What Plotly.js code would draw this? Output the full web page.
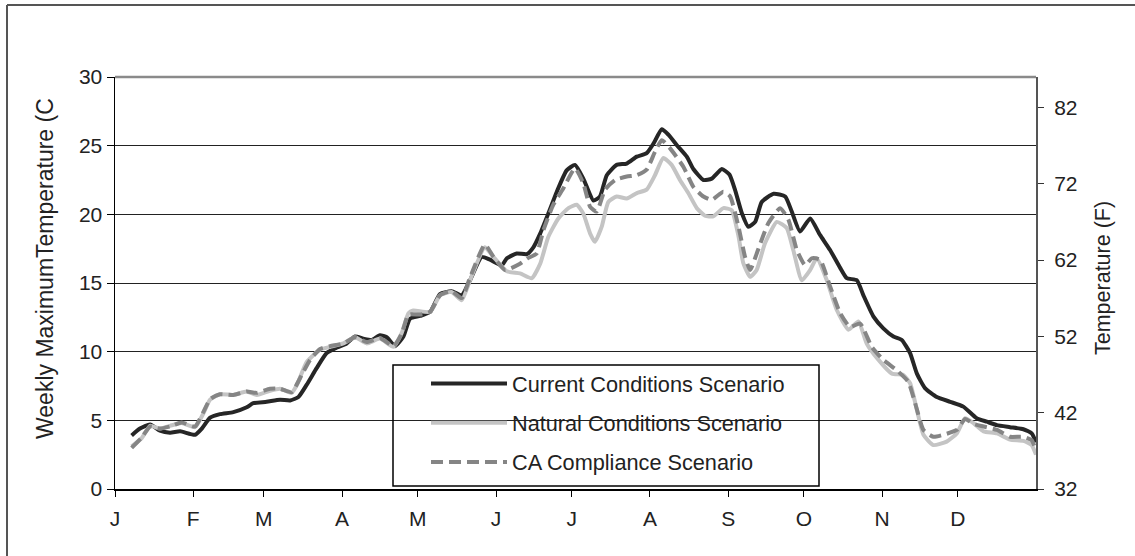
<!DOCTYPE html>
<html>
<head>
<meta charset="utf-8">
<script src="https://cdn.plot.ly/plotly-3.0.1.min.js"></script>
<style>html,body{margin:0;padding:0;background:#fff;}#chart{width:1135px;height:556px;}</style>
</head>
<body>
<div id="chart"></div>
<script>
// Day of year (0 = Jan 1) and weekly maximum temperature (C)
const currentDays = [6.6,9.9,13.9,17.8,21.8,25.8,31.7,34.4,37.7,41.6,46.9,52.2,54.8,60.1,65.4,69.4,72.7,76.0,79.9,83.9,87.9,91.8,95.1,98.4,101.7,105.0,107.7,111.0,114.3,116.9,120.9,124.9,128.8,133.4,137.4,140.7,145.3,148.6,153.3,155.3,159.2,163.2,165.8,168.5,171.7,175.1,179.0,182.3,185.6,189.6,192.2,194.9,198.8,202.8,206.8,210.7,213.4,216.7,219.3,222.6,226.6,229.2,233.2,236.5,240.5,243.5,245.7,248.4,251.0,253.7,256.3,261.0,265.6,268.2,271.5,275.5,279.4,283.4,287.4,290.0,294.0,296.6,300.6,304.5,308.5,311.8,315.1,317.8,321.0,325.7,331.0,336.2,341.5,345.5,349.5,354.7,360.0,363.3,365];
const currentVals = [3.9,4.4,4.7,4.25,4.1,4.2,3.95,4.4,5.2,5.45,5.6,5.95,6.25,6.35,6.5,6.45,6.7,7.6,8.8,9.9,10.3,10.6,11.1,10.95,10.85,11.2,11.05,10.4,11.1,12.4,12.6,12.9,14.2,14.4,14.1,15.2,16.9,16.7,16.3,16.8,17.15,17.1,17.6,18.6,20.05,21.65,23.2,23.6,22.6,21.0,21.3,22.85,23.6,23.7,24.2,24.45,25.15,26.2,25.8,25.05,24.2,23.3,22.5,22.6,23.3,22.9,21.8,20.1,19.1,19.45,20.9,21.5,21.3,20.2,18.75,19.7,18.5,17.4,16.1,15.35,15.2,14.1,12.55,11.7,11.1,10.85,9.9,8.4,7.35,6.7,6.35,6.0,5.15,4.9,4.65,4.5,4.35,4.05,3.4];

const naturalDays = [6.6,10.6,13.9,17.8,21.8,26.4,31.7,35.0,37.7,41.6,46.9,52.2,56.2,61.4,65.4,70.0,72.0,76.0,81.3,85.2,90.5,95.1,99.8,105.0,110.3,113.6,116.3,118.2,124.9,128.8,133.4,137.4,140.7,146.6,150.0,155.3,160.5,165.2,168.5,171.7,175.7,179.7,183.0,185.6,188.3,190.2,192.9,195.5,198.8,202.8,206.8,210.7,214.0,217.3,220.6,223.9,227.2,230.6,233.8,237.1,241.1,244.4,247.1,249.0,251.7,254.3,257.6,262.3,266.2,268.8,272.2,275.5,278.1,282.1,286.0,290.7,294.6,297.9,302.6,307.9,312.4,315.1,317.8,320.4,324.3,329.6,333.6,336.9,340.2,344.2,349.5,354.7,360.0,363.3,365];
const naturalVals = [3.1,3.7,4.6,4.4,4.6,4.8,4.5,5.5,6.5,6.9,6.85,7.1,6.85,7.15,7.3,7.0,7.55,9.25,10.15,10.35,10.6,11.05,10.6,10.95,10.35,11.35,12.8,13.0,12.9,14.1,14.35,13.75,15.2,17.6,16.9,15.85,15.7,15.35,16.4,18.35,19.7,20.45,20.7,20.05,18.6,18.0,19.1,20.9,21.3,21.15,21.55,21.8,22.85,24.1,23.6,22.5,21.55,20.45,19.9,19.85,20.45,20.3,18.4,16.45,15.45,15.95,17.9,19.45,19.0,17.4,15.2,15.95,16.8,15.2,13.05,11.6,12.2,10.6,9.4,8.4,8.3,7.7,5.75,3.95,3.2,3.45,4.05,5.15,4.8,4.2,4.05,3.6,3.5,3.2,2.5];

const caDays = [6.6,10.6,13.9,17.8,21.8,26.4,31.7,35.0,37.7,41.6,46.9,52.2,56.2,61.4,65.4,70.0,72.0,74.0,77.3,81.3,85.2,90.5,95.1,99.8,105.0,110.3,113.6,116.3,120.9,124.9,128.8,133.4,137.4,140.7,146.6,150.0,154.6,160.5,163.5,167.1,169.8,173.7,177.7,182.3,185.6,188.3,190.9,194.2,198.2,202.8,206.8,210.7,214.0,216.7,220.0,225.3,229.2,233.2,236.5,241.1,243.8,247.1,249.7,251.7,255.0,258.9,263.6,266.9,270.2,273.5,276.1,279.4,283.4,287.4,291.3,295.3,299.9,304.5,309.8,314.4,317.1,320.4,324.3,328.3,333.6,336.9,340.2,344.2,349.5,354.7,360.0,363.3,365];
const caVals = [3.0,3.75,4.55,4.4,4.55,4.85,4.55,5.6,6.55,6.9,6.85,7.1,7.0,7.3,7.3,7.05,7.6,8.3,9.4,10.2,10.4,10.6,11.05,10.7,11.0,10.4,11.3,12.7,12.7,12.9,14.1,14.4,13.9,15.4,17.8,16.9,15.95,16.4,16.8,17.15,18.85,20.7,21.9,23.35,22.25,20.55,20.2,21.8,22.5,22.75,22.85,23.25,24.55,25.4,24.8,23.45,22.0,21.3,21.05,21.65,21.3,19.1,16.9,15.95,17.5,19.35,20.45,19.6,17.4,16.3,16.8,16.7,14.75,12.8,11.8,12.05,10.35,9.4,8.65,7.8,6.25,4.3,3.8,3.95,4.3,5.1,4.75,4.55,4.3,3.8,3.8,3.55,2.8];

const monthStarts = [0,31,59,90,120,151,181,212,243,273,304,334];
const monthLabels = ['J','F','M','A','M','J','J','A','S','O','N','D'];
const cTicks = [0,5,10,15,20,25,30];
const fTicks = [32,42,52,62,72,82];

const FONT = 'Liberation Sans, Arial, sans-serif';
const TXT = '#222';

const traces = [
  {x: currentDays, y: currentVals, name: 'Current Conditions Scenario', type: 'scatter', mode: 'lines',
   line: {color: '#262626', width: 4, shape: 'spline', smoothing: 0.5}, legendgroup: 'a'},
  {x: naturalDays, y: naturalVals, name: 'Natural Conditions Scenario', type: 'scatter', mode: 'lines',
   line: {color: '#c4c4c4', width: 4, shape: 'spline', smoothing: 0.5}, legendgroup: 'b'},
  {x: caDays, y: caVals, name: 'CA Compliance Scenario', type: 'scatter', mode: 'lines',
   line: {color: '#858585', width: 4, dash: '12px,6px', shape: 'spline', smoothing: 0.5}, legendgroup: 'c'},
  // empty helper trace so the Fahrenheit axis is drawn
  {x: [null], y: [null], yaxis: 'y2', type: 'scatter', mode: 'lines', showlegend: false, hoverinfo: 'skip'}
];

const P = (px) => (px - 115) / 921;   // pixel x -> paper x
const Q = (py) => (489 - py) / 412;   // pixel y -> paper y

const layout = {
  width: 1135, height: 556,
  margin: {l: 115, r: 99, t: 77, b: 67},
  paper_bgcolor: '#fff', plot_bgcolor: '#fff',
  font: {family: FONT, size: 21, color: TXT},
  showlegend: true,
  legend: {x: P(426), y: Q(363), xanchor: 'left', yanchor: 'top', bgcolor: 'rgba(0,0,0,0)',
           borderwidth: 0, font: {family: FONT, size: 21.7, color: TXT},
           traceorder: 'grouped', tracegroupgap: 8, itemwidth: 76},
  xaxis: {range: [0, 365], tickvals: monthStarts, ticktext: monthLabels, ticks: 'outside', ticklen: 6,
          tickcolor: '#000', showgrid: false, zeroline: false, showline: true, linecolor: '#000', linewidth: 1.5,
          ticklabelstandoff: 4, tickfont: {family: FONT, size: 21, color: TXT}},
  yaxis: {range: [0, 30], tickvals: cTicks, ticks: 'outside', ticklen: 7, tickcolor: '#000',
          showgrid: true, gridcolor: '#222', gridwidth: 1, zeroline: false, showline: true,
          linecolor: '#000', linewidth: 1.5, tickfont: {family: FONT, size: 21, color: TXT}},
  yaxis2: {range: [32, 86], tickvals: fTicks, overlaying: 'y', side: 'right', ticks: 'outside', ticklen: 6,
           tickcolor: '#333', showgrid: false, zeroline: false, showline: true, linecolor: '#555', linewidth: 2,
           ticklabelstandoff: 6, tickfont: {family: FONT, size: 21, color: TXT}},
  shapes: [
    {type: 'line', xref: 'paper', yref: 'paper', x0: 0, x1: 1, y0: 1, y1: 1, line: {color: '#8a8a8a', width: 2.5}},
    {type: 'rect', xref: 'paper', yref: 'paper', x0: P(393), x1: P(819), y0: Q(486), y1: Q(365),
     line: {color: '#000', width: 1.5}, fillcolor: 'rgba(0,0,0,0)'},
    {type: 'line', xref: 'paper', yref: 'paper', x0: P(7), x1: P(7), y0: Q(560), y1: Q(5), line: {color: '#555', width: 2}},
    {type: 'line', xref: 'paper', yref: 'paper', x0: P(7), x1: P(1140), y0: Q(5), y1: Q(5), line: {color: '#555', width: 2}}
  ],
  annotations: [
    {text: 'Weekly MaximumTemperature (C', xref: 'paper', yref: 'paper', x: P(45), y: Q(269),
     xanchor: 'center', yanchor: 'middle', textangle: -90, showarrow: false, font: {family: FONT, size: 23, color: TXT}},
    {text: 'Temperature (F)', xref: 'paper', yref: 'paper', x: P(1103), y: Q(278),
     xanchor: 'center', yanchor: 'middle', textangle: -90, showarrow: false, font: {family: FONT, size: 21.5, color: TXT}}
  ]
};

Plotly.newPlot('chart', traces, layout, {displayModeBar: false, staticPlot: true});
</script>
</body>
</html>
